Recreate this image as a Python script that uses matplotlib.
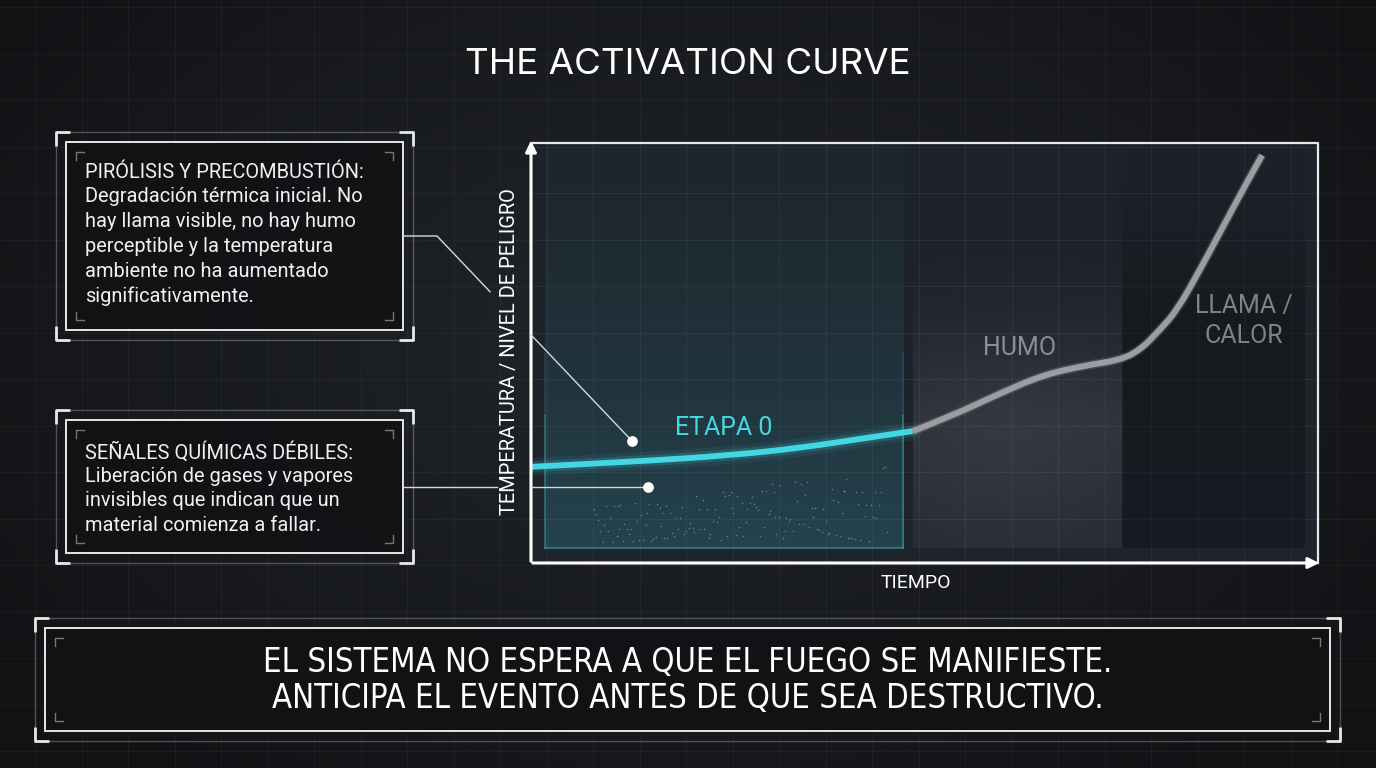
import numpy as np
import matplotlib.pyplot as plt
from matplotlib.path import Path
from matplotlib.patches import PathPatch, Rectangle

W, H = 1376, 768

# Curve values (time 0-100, danger level 0-100)
etapa0_t = [0, 13.0, 25.7, 34.2, 42.7, 48.5]
etapa0_nivel = [22.9, 24.1, 25.7, 27.4, 29.8, 31.4]
escalada_t = [48.5, 53.2, 59.6, 65.1, 70.6, 74.8, 77.4, 79.9, 82.1, 85.0, 88.4, 90.9, 92.9]
escalada_nivel = [31.4, 34.8, 40.4, 44.8, 47.1, 48.3, 50.7, 55.5, 60.2, 69.8, 81.7, 90.4, 97.1]

# Phases along the time axis
fases = ['ETAPA 0', 'HUMO', 'LLAMA /\nCALOR']
fase_inicio = [1.8, 48.5, 75.1]
fase_fin = [47.3, 75.1, 98.3]

titulo = 'THE ACTIVATION CURVE'
eje_y = 'TEMPERATURA / NIVEL DE PELIGRO'
eje_x = 'TIEMPO'
nota1 = ['PIRÓLISIS Y PRECOMBUSTIÓN:', 'Degradación térmica inicial. No',
         'hay llama visible, no hay humo', 'perceptible y la temperatura',
         'ambiente no ha aumentado', 'significativamente.']
nota2 = ['SEÑALES QUÍMICAS DÉBILES:', 'Liberación de gases y vapores',
         'invisibles que indican que un', 'material comienza a fallar.']
mensaje = ['EL SISTEMA NO ESPERA A QUE EL FUEGO SE MANIFIESTE.',
           'ANTICIPA EL EVENTO ANTES DE QUE SEA DESTRUCTIVO.']

CYAN = '#45d6e4'
GRAY = '#9a9da1'
FONT = ['Roboto', 'DejaVu Sans']


def smooth_path(xs, ys):
    # quadratic bezier through midpoints, just to draw the line smoothly
    pts = list(zip(xs, ys))
    verts = [pts[0]]
    codes = [Path.MOVETO]
    for i in range(1, len(pts) - 1):
        mid = ((pts[i][0] + pts[i + 1][0]) / 2, (pts[i][1] + pts[i + 1][1]) / 2)
        verts += [pts[i], mid]
        codes += [Path.CURVE3, Path.CURVE3]
    verts.append(pts[-1])
    codes.append(Path.LINETO)
    return Path(verts, codes)


def panel(ax, x0, y0, x1, y1, pad=10):
    ax.add_patch(Rectangle((x0, y0), x1 - x0, y1 - y0, facecolor='#111214',
                           alpha=0.9, edgecolor='none', zorder=2))
    ax.add_patch(Rectangle((x0, y0), x1 - x0, y1 - y0, fill=False,
                           edgecolor='#e6e6e6', lw=1.4, zorder=3))
    ox0, oy0, ox1, oy1 = x0 - pad, y0 - pad, x1 + pad, y1 + pad
    ax.add_patch(Rectangle((ox0, oy0), ox1 - ox0, oy1 - oy0, fill=False,
                           edgecolor='white', alpha=0.25, lw=1, zorder=3))
    arm = 14
    for cx, cy, sx, sy in [(ox0, oy0, 1, 1), (ox1, oy0, -1, 1),
                           (ox0, oy1, 1, -1), (ox1, oy1, -1, -1)]:
        ax.plot([cx + sx * arm, cx, cx], [cy, cy, cy + sy * arm],
                color='#e8e8e8', lw=2, zorder=3, solid_capstyle='butt')
    ins, arm2 = 10, 8
    for cx, cy, sx, sy in [(x0 + ins, y0 + ins, 1, 1), (x1 - ins, y0 + ins, -1, 1),
                           (x0 + ins, y1 - ins, 1, -1), (x1 - ins, y1 - ins, -1, -1)]:
        ax.plot([cx + sx * arm2, cx, cx], [cy, cy, cy + sy * arm2],
                color='#777777', lw=1, zorder=3)


fig = plt.figure(figsize=(W / 100, H / 100), dpi=100)

# background layer in pixel coordinates
bg = fig.add_axes([0, 0, 1, 1], zorder=0)
bg.set_xlim(0, W)
bg.set_ylim(H, 0)
bg.axis('off')

yy, xx = np.mgrid[0:1:96j, 0:1:172j]
r = np.sqrt(((xx - 0.5) / 0.6) ** 2 + ((yy - 0.45) / 0.7) ** 2)
r = np.clip(r, 0, 1)
c_in = np.array([0.135, 0.15, 0.165])
c_out = np.array([0.07, 0.075, 0.085])
vign = c_in[None, None, :] * (1 - r[..., None]) + c_out[None, None, :] * r[..., None]
bg.imshow(vign, extent=[0, W, H, 0], aspect='auto', interpolation='bilinear', zorder=0)

step = 46.5
for gx in np.arange(35.2, W, step):
    bg.axvline(gx, color='white', alpha=0.035, lw=0.8, zorder=1)
for gy in np.arange(7, H, step):
    bg.axhline(gy, color='white', alpha=0.035, lw=0.8, zorder=1)

# chart interior
cx0, cy0, cx1, cy1 = 531, 143, 1318, 563
interior = np.linspace(0, 1, 64)[:, None, None] * np.array([0.01, 0.01, 0.01]) + \
    np.array([0.115, 0.135, 0.165])
bg.imshow(np.repeat(interior, 4, axis=1), extent=[cx0, cx1, cy1, cy0],
          aspect='auto', interpolation='bilinear', zorder=1.5)
for gx in np.arange(35.2, W, step):
    if cx0 < gx < cx1:
        bg.plot([gx, gx], [cy0, cy1], color='white', alpha=0.06, lw=0.8, zorder=2)
for gy in np.arange(7, H, step):
    if cy0 < gy < cy1:
        bg.plot([cx0, cx1], [gy, gy], color='white', alpha=0.06, lw=0.8, zorder=2)

# chart axes in data coordinates
ax = fig.add_axes([cx0 / W, 1 - cy1 / H, (cx1 - cx0) / W, (cy1 - cy0) / H], zorder=1)
ax.set_xlim(0, 100)
ax.set_ylim(0, 100)
ax.patch.set_alpha(0)
ax.axis('off')

base = 3.6
# ETAPA 0 teal tint, strongest at the bottom
t = np.linspace(0, 1, 100)[:, None]
teal = np.zeros((100, 1, 4))
teal[..., :3] = [0.17, 0.45, 0.5]
teal[..., 3] = 0.05 + 0.35 * (1 - t) ** 1.4
ax.imshow(teal, extent=[fase_inicio[0], fase_fin[0], base, 100], origin='lower',
          aspect='auto', interpolation='bilinear', zorder=1)
ax.plot([fase_inicio[0], fase_fin[0]], [base, base], color=CYAN, alpha=0.45, lw=1.2, zorder=2)
for xe in (fase_inicio[0], fase_fin[0]):
    ax.plot([xe, xe], [base, 35], color=CYAN, alpha=0.4, lw=1.2, zorder=2)
    ax.plot([xe, xe], [35, 50], color=CYAN, alpha=0.15, lw=1.2, zorder=2)

# faint particles (deterministic low-discrepancy pattern)
k = np.arange(1, 150)
u = k * 0.6180339 % 1
v = (k * k * 0.4142136) % 1
px = fase_inicio[0] + 6 + u * (fase_fin[0] - fase_inicio[0] - 8)
py = 5 + v * (8 + 10 * u)
ax.scatter(px, py, s=1.2, color='#cfe9ee', alpha=0.4, lw=0, zorder=2)

# HUMO grey haze
hy, hx = np.mgrid[0:1:120j, 0:1:60j]
vert = np.where(hy < 0.3, 0.55 + 0.45 * hy / 0.3, np.exp(-((hy - 0.3) / 0.3) ** 2))
prof = vert * (0.75 + 0.25 * np.exp(-((hx - 0.45) / 0.4) ** 2))
haze = np.zeros((120, 60, 4))
haze[..., :3] = [0.55, 0.57, 0.61]
haze[..., 3] = prof * 0.2
ax.imshow(haze, extent=[fase_inicio[1], fase_fin[1], base, 90], origin='lower',
          aspect='auto', interpolation='bilinear', zorder=1)

# LLAMA dark band
ly = np.linspace(0, 1, 100)[:, None]
dark = np.zeros((100, 1, 4))
dark[..., :3] = [0.05, 0.055, 0.065]
dark[..., 3] = 0.42 * np.clip((1 - ly) / 0.45, 0, 1) ** 1.2
ax.imshow(dark, extent=[fase_inicio[2], fase_fin[2], base, 100], origin='lower',
          aspect='auto', interpolation='bilinear', zorder=1)

# curves
p0 = smooth_path(etapa0_t, etapa0_nivel)
for lw, al in [(13, 0.07), (8, 0.16)]:
    ax.add_patch(PathPatch(p0, fill=False, edgecolor=CYAN, lw=lw, alpha=al,
                           capstyle='round', zorder=3))
ax.add_patch(PathPatch(p0, fill=False, edgecolor=CYAN, lw=4.2, capstyle='butt', zorder=4))
p1 = smooth_path(escalada_t, escalada_nivel)
ax.add_patch(PathPatch(p1, fill=False, edgecolor='#6d7075', lw=6.5, alpha=0.4,
                       capstyle='butt', zorder=3))
ax.add_patch(PathPatch(p1, fill=False, edgecolor=GRAY, lw=4.3, capstyle='butt', zorder=4))

ax.text(24.5, 32.1, fases[0], color=CYAN, fontsize=18, ha='center', va='center',
        family=FONT, zorder=5)
ax.text(62.1, 51.2, fases[1], color='#8b8e93', fontsize=18, ha='center', va='center',
        family=FONT, zorder=5)
ax.text(90.6, 57.6, fases[2], color='#7f8287', fontsize=18, ha='center', va='center',
        family=FONT, linespacing=1.3, zorder=5)

# overlay in pixel coordinates
top = fig.add_axes([0, 0, 1, 1], zorder=5)
top.set_xlim(0, W)
top.set_ylim(H, 0)
top.patch.set_alpha(0)
top.axis('off')

top.plot([cx0, cx1, cx1], [cy0, cy0, cy1], color='#e8e8e8', lw=1.6)
top.annotate('', xy=(cx0, 138), xytext=(cx0, cy1 + 1),
             arrowprops=dict(arrowstyle='-|>', color='white', lw=2.2, mutation_scale=16))
top.annotate('', xy=(1322, cy1), xytext=(cx0 - 1, cy1),
             arrowprops=dict(arrowstyle='-|>', color='white', lw=2.2, mutation_scale=16))

top.text(688, 64, titulo, color='white', fontsize=26.5, ha='center', va='center',
         family=['Inter', 'DejaVu Sans'])
top.text(509, 352, eje_y, color='white', fontsize=14.4, rotation=90, ha='center',
         va='center', family=FONT)
top.text(916, 583, eje_x, color='white', fontsize=14, ha='center', va='center',
         family=FONT)

panel(top, 66, 142, 403, 330)
panel(top, 66, 420, 403, 553)
for i, line in enumerate(nota1):
    top.text(85, 172 + i * 24.8, line, color='#f0f0f0', fontsize=14.4,
             ha='left', va='center', family=FONT, zorder=4)
for i, line in enumerate(nota2):
    top.text(85, 452 + i * 24.5, line, color='#f0f0f0', fontsize=14.4,
             ha='left', va='center', family=FONT, zorder=4)

# connectors to the curve
top.plot([403, 437, 490], [236, 236, 291.7], color='#d8d8d8', lw=1, zorder=4)
top.plot([531, 632], [334.8, 441], color='#d8d8d8', lw=1, zorder=4)
top.plot([403, 497], [487, 487], color='#d8d8d8', lw=1, zorder=4)
top.plot([531, 648], [487, 487], color='#d8d8d8', lw=1, zorder=4)
top.scatter([632, 648], [441, 487], s=45, color='white', zorder=6)

panel(top, 45, 628, 1330, 731)
for i, line in enumerate(mensaje):
    top.text(688, 662 + i * 37, line, color='white', fontsize=23.6, ha='center',
             va='center', family=['DejaVu Sans'], fontstretch='condensed', zorder=4)

fig.savefig('out.png', dpi=100, facecolor='#15171a')
